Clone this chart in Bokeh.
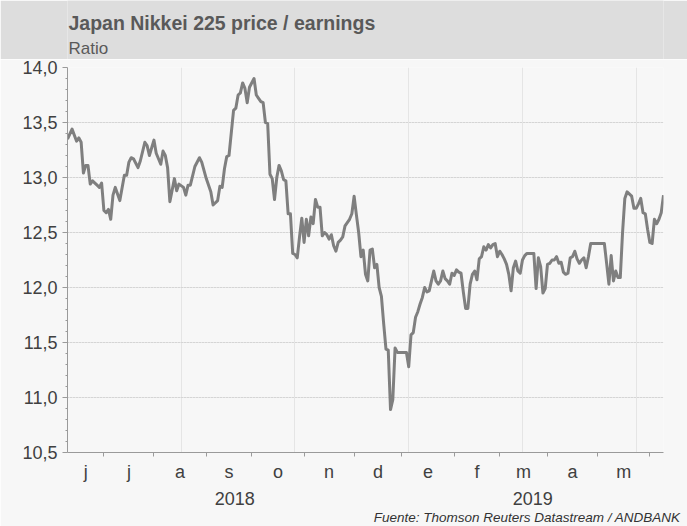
import numpy as np
from bokeh.plotting import figure
from bokeh.layouts import column
from bokeh.models import Range1d, FixedTicker, LinearAxis, Grid, Title
from bokeh.core.properties import value
from bokeh.embed import file_html
from bokeh.resources import INLINE

# ---------------- data ----------------
start_date = "2018-06-08"      # first trading day shown
end_index = 262                # trading days shown on the axis

# trading-day offsets from start_date and Nikkei 225 P/E ratio
day = [0, 2, 4, 5, 6, 7, 8, 9, 10, 11, 13, 14, 15, 16, 17, 18, 19, 20, 21, 23,
       25, 26, 27, 28, 29, 31, 32, 34, 35, 36, 38, 39, 41, 42, 43, 44, 45, 47, 48, 49,
       51, 52, 53, 54, 56, 58, 59, 61, 63, 64, 66, 67, 68, 69, 70, 71, 73, 74, 75, 76,
       77, 78, 79, 80, 82, 83, 84, 85, 86, 87, 88, 89, 90, 91, 92, 93, 94, 95, 96, 97,
       98, 99, 100, 101, 102, 103, 104, 105, 106, 107, 108, 109, 110, 111, 112, 113, 114, 115, 116, 117,
       118, 119, 120, 121, 122, 124, 125, 126, 127, 128, 129, 130, 131, 132, 133, 134, 135, 136, 137, 138,
       139, 140, 141, 142, 143, 144, 145, 149, 150, 151, 152, 153, 154, 155, 156, 157, 158, 159, 160, 161,
       162, 163, 164, 165, 166, 167, 168, 169, 170, 171, 172, 173, 174, 175, 176, 177, 178, 179, 180, 181,
       182, 183, 184, 185, 186, 187, 188, 189, 190, 191, 192, 193, 194, 195, 196, 197, 198, 199, 200, 201,
       202, 205, 206, 207, 208, 209, 210, 211, 212, 213, 214, 215, 216, 217, 218, 219, 220, 221, 222, 223,
       224, 225, 226, 227, 228, 229, 230, 236, 237, 238, 239, 240, 241, 242, 243, 244, 245, 246, 248, 249,
       250, 251, 252, 253, 254, 255, 256, 257, 258, 259, 260, 261, 262]
pe = [13.35, 13.44, 13.33, 13.36, 13.32, 13.04, 13.11, 13.11, 12.94, 12.97, 12.93, 12.91, 12.95, 12.70, 12.68, 12.71, 12.62, 12.84, 12.91, 12.79,
      13.02, 13.02, 13.14, 13.18, 13.17, 13.09, 13.15, 13.32, 13.29, 13.20, 13.34, 13.22, 13.12, 13.24, 13.20, 13.09, 12.78, 12.99, 12.88, 12.94,
      12.91, 12.84, 12.93, 12.93, 13.10, 13.18, 13.14, 12.99, 12.87, 12.75, 12.79, 12.92, 12.91, 13.08, 13.19, 13.20, 13.61, 13.63, 13.75, 13.77,
      13.86, 13.81, 13.68, 13.82, 13.90, 13.75, 13.72, 13.69, 13.68, 13.50, 13.49, 13.03, 12.99, 12.80, 13.00, 13.11, 13.06, 12.98, 12.97, 12.67,
      12.67, 12.31, 12.30, 12.27, 12.46, 12.63, 12.41, 12.62, 12.47, 12.64, 12.58, 12.80, 12.73, 12.73, 12.47, 12.50, 12.48, 12.44, 12.48, 12.38,
      12.33, 12.41, 12.43, 12.46, 12.56, 12.62, 12.67, 12.83, 12.66, 12.50, 12.28, 12.34, 12.12, 12.06, 12.34, 12.35, 12.18, 12.21, 12.00, 11.92,
      11.67, 11.44, 11.43, 10.89, 10.98, 11.45, 11.41, 11.41, 11.28, 11.57, 11.59, 11.73, 11.78, 11.85, 11.91, 12.00, 11.96, 11.97, 12.06, 12.15,
      12.06, 12.03, 12.06, 12.15, 12.08, 12.06, 12.03, 12.13, 12.11, 12.16, 12.14, 12.13, 11.96, 11.81, 11.81, 12.03, 12.12, 12.15, 12.07, 12.26,
      12.28, 12.37, 12.34, 12.39, 12.36, 12.39, 12.40, 12.28, 12.33, 12.30, 12.26, 12.21, 12.12, 11.97, 12.18, 12.24, 12.15, 12.13, 12.25, 12.29,
      12.31, 12.31, 11.99, 12.27, 12.19, 11.95, 11.99, 12.21, 12.22, 12.25, 12.25, 12.28, 12.22, 12.23, 12.14, 12.12, 12.13, 12.27, 12.28, 12.33,
      12.26, 12.22, 12.25, 12.27, 12.18, 12.28, 12.40, 12.40, 12.22, 12.03, 12.29, 12.06, 12.15, 12.09, 12.09, 12.50, 12.81, 12.87, 12.83, 12.72,
      12.72, 12.76, 12.81, 12.68, 12.67, 12.53, 12.41, 12.40, 12.62, 12.58, 12.62, 12.68, 12.84]

y_ticks = [10.5, 11.0, 11.5, 12.0, 12.5, 13.0, 13.5, 14.0]
y_tick_labels = ["10,5", "11,0", "11,5", "12,0", "12,5", "13,0", "13,5", "14,0"]

month_starts = ["2018-07-01", "2018-08-01", "2018-09-01", "2018-10-01", "2018-11-01", "2018-12-01",
                "2019-01-01", "2019-02-01", "2019-03-01", "2019-04-01", "2019-05-01", "2019-06-01"]
month_letters = ["j", "j", "a", "s", "o", "n", "d", "e", "f", "m", "a", "m"]
year_labels = ["2018", "2019"]
year_break = "2019-01-01"

title_text = "Japan Nikkei 225 price / earnings"
subtitle_text = "Ratio"
source_text = "Fuente: Thomson Reuters Datastream / ANDBANK"

# ---------------- helpers ----------------
def key(v):
    v = float(v)
    return int(v) if v.is_integer() else v

bounds = [int(np.busday_count(start_date, d)) for d in month_starts]
edges = [0] + bounds
month_mid = [(edges[k] + edges[k + 1]) / 2 for k in range(len(month_letters))]
yb = int(np.busday_count(start_date, year_break))
year_mid = [yb / 2, (yb + end_index) / 2]

minor_y = []
for a, b in zip(y_ticks[:-1], y_ticks[1:]):
    for k in range(1, 5):
        minor_y.append(round(a + (b - a) * k / 5, 3))

FONT = "Liberation Sans"
AX = "#9a9a9a"
TXT = "#404040"
BG = "#f7f7f7"
HEAD = "#dddddd"
W = 687
LEFT, RIGHT = 67, 24
HEAD_H = 59
MAIN_H = 526 - HEAD_H

# ---------------- header (frame aligned with the chart frame) ----------------
h = figure(width=W, height=HEAD_H, x_range=Range1d(LEFT, W - RIGHT), y_range=Range1d(HEAD_H, 0),
           output_backend="svg", toolbar_location=None,
           x_axis_location=None, y_axis_location=None,
           min_border_left=LEFT, min_border_right=RIGHT, min_border_top=0, min_border_bottom=0,
           background_fill_color=HEAD, border_fill_color=HEAD, outline_line_color=None)
h.xgrid.visible = False
h.ygrid.visible = False
h.text(x=[68], y=[22], text=[title_text], text_font=value(FONT), text_font_style="bold",
       text_font_size="19.5px", text_color="#595959", text_baseline="middle", text_align="left")
h.text(x=[68], y=[48], text=[subtitle_text], text_font=value(FONT),
       text_font_size="17px", text_color="#595959", text_baseline="middle", text_align="left")

# ---------------- main chart ----------------
p = figure(width=W, height=MAIN_H, x_range=Range1d(0, end_index), y_range=Range1d(10.5, 14.0),
           output_backend="svg", toolbar_location=None,
           x_axis_location=None, y_axis_location=None,
           min_border_left=LEFT, min_border_right=RIGHT, min_border_top=67 - HEAD_H, min_border_bottom=74,
           background_fill_color=BG, border_fill_color=BG, outline_line_color=None)

yt = FixedTicker(ticks=y_ticks, minor_ticks=minor_y)
yaxis = LinearAxis(ticker=yt,
                   major_label_overrides={key(v): s for v, s in zip(y_ticks, y_tick_labels)},
                   axis_line_color=AX, major_tick_line_color=AX, minor_tick_line_color=AX,
                   major_tick_out=5, major_tick_in=0, minor_tick_out=2, minor_tick_in=0,
                   major_label_standoff=5, major_label_text_font=FONT,
                   major_label_text_font_size="18px", major_label_text_color=TXT)
p.add_layout(yaxis, "left")
p.add_layout(Grid(dimension=1, ticker=yt, grid_line_color="#c4c4c4", grid_line_dash="1 2",
                  grid_line_width=1))

xt = FixedTicker(ticks=month_mid, minor_ticks=bounds)
xaxis = LinearAxis(ticker=xt,
                   major_label_overrides={key(v): s for v, s in zip(month_mid, month_letters)},
                   axis_line_color=AX, major_tick_line_color=None, minor_tick_line_color=AX,
                   major_tick_out=4, major_tick_in=0, minor_tick_out=4, minor_tick_in=0,
                   major_label_standoff=5, major_label_text_font=FONT,
                   major_label_text_font_size="18px", major_label_text_color=TXT)
p.add_layout(xaxis, "below")

yeart = FixedTicker(ticks=year_mid, minor_ticks=[])
year_axis = LinearAxis(ticker=yeart,
                       major_label_overrides={key(v): s for v, s in zip(year_mid, year_labels)},
                       axis_line_color=None, major_tick_line_color=None, minor_tick_line_color=None,
                       major_tick_out=0, major_tick_in=0, major_label_standoff=7,
                       major_label_text_font=FONT, major_label_text_font_size="18px",
                       major_label_text_color=TXT)
p.add_layout(year_axis, "below")

p.add_layout(Title(text=source_text, align="right", offset=-17, standoff=1,
                   text_font=FONT, text_font_style="italic", text_font_size="13.5px",
                   text_color="#333333"), "below")

p.line(day, pe, line_color="#7f7f7f", line_width=3, line_join="round")

layout = column(h, p, spacing=0)

open("out.html", "w").write(file_html(layout, INLINE))
